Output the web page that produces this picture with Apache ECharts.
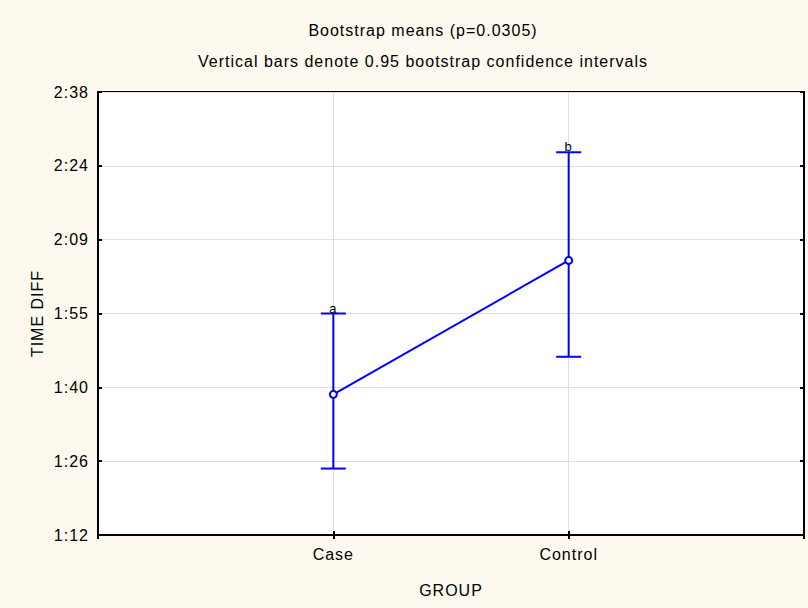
<!DOCTYPE html>
<html>
<head>
<meta charset="utf-8">
<script src="https://cdn.jsdelivr.net/npm/echarts@6/dist/echarts.min.js"></script>
<style>
html,body{margin:0;padding:0;background:#fdf9ee;}
#chart{width:808px;height:608px;}
#chart text{letter-spacing:1px;}
</style>
</head>
<body>
<div id="chart"></div>
<script>
// Data (seconds)
const groups = ['Case', 'Control'];
const meanSec = [99.3, 125.3];
const lowerSec = [84.9, 106.6];
const upperSec = [115.0, 146.3];
const groupLetters = ['a', 'b'];
// Y axis tick labels (m:ss), spanning 72 s .. 158 s in 6 equal steps
const yTickLabels = ['1:12', '1:26', '1:40', '1:55', '2:09', '2:24', '2:38'];
const Y_MIN_SEC = 72;
const Y_MAX_SEC = 158;

const nSteps = yTickLabels.length - 1;
const step = (Y_MAX_SEC - Y_MIN_SEC) / nSteps;
const toUnit = s => (s - Y_MIN_SEC) / step;

const cats = [''].concat(groups).concat(['']);
const lineData = [null].concat(meanSec.map(toUnit)).concat([null]);
const errData = groups.map((g, i) => [i + 1, toUnit(lowerSec[i]), toUnit(upperSec[i]), groupLetters[i]]);

const FONT = 'Liberation Sans, Arial, sans-serif';
const FS = 16;
const chart = echarts.init(document.getElementById('chart'), null, {renderer: 'svg'});
chart.setOption({
  backgroundColor: '#fdf9ee',
  animation: false,
  title: [
    {text: 'Bootstrap means (p=0.0305)', left: 418, top: 17, textAlign: 'center',
     textStyle: {fontFamily: FONT, fontSize: FS, fontWeight: 'normal', color: '#000'}},
    {text: 'Vertical bars denote 0.95 bootstrap confidence intervals', left: 418, top: 48, textAlign: 'center',
     textStyle: {fontFamily: FONT, fontSize: FS, fontWeight: 'normal', color: '#000'}}
  ],
  grid: {left: 98, right: 4, top: 92, bottom: 73, show: true, backgroundColor: '#fff', borderColor: '#000', borderWidth: 2},
  xAxis: [{
    type: 'category', data: cats, boundaryGap: false, position: 'bottom',
    name: 'GROUP', nameLocation: 'middle', nameGap: 47,
    nameTextStyle: {fontFamily: FONT, fontSize: FS, color: '#000'},
    axisLine: {lineStyle: {color: '#000', width: 2}},
    axisTick: {inside: true, length: 4, lineStyle: {color: '#000', width: 2}},
    axisLabel: {fontFamily: FONT, fontSize: FS, color: '#000', margin: 11},
    splitLine: {show: true, lineStyle: {color: '#e0e0e0', width: 1}}
  }, {
    type: 'category', data: cats, boundaryGap: false, position: 'top',
    axisLine: {lineStyle: {color: '#000', width: 2}},
    axisTick: {inside: true, length: 4, lineStyle: {color: '#000', width: 2}},
    axisLabel: {show: false}, splitLine: {show: false}
  }],
  yAxis: [{
    type: 'value', min: 0, max: nSteps, interval: 1, position: 'left',
    name: 'TIME DIFF', nameLocation: 'middle', nameGap: 53, nameRotate: 90,
    nameTextStyle: {fontFamily: FONT, fontSize: FS, color: '#000'},
    axisLine: {show: true, lineStyle: {color: '#000', width: 2}},
    axisTick: {show: true, inside: true, length: 4, lineStyle: {color: '#000', width: 2}},
    axisLabel: {fontFamily: FONT, fontSize: FS, color: '#000', margin: 9,
      formatter: v => yTickLabels[Math.round(v)]},
    splitLine: {show: true, lineStyle: {color: '#e0e0e0', width: 1}}
  }, {
    type: 'value', min: 0, max: nSteps, interval: 1, position: 'right',
    axisLine: {show: true, lineStyle: {color: '#000', width: 2}},
    axisTick: {show: true, inside: true, length: 4, lineStyle: {color: '#000', width: 2}},
    axisLabel: {show: false}, splitLine: {show: false}
  }],
  series: [{
    type: 'custom',
    xAxisIndex: 0, yAxisIndex: 0,
    data: errData,
    z: 3,
    renderItem: function (params, api) {
      const x = api.value(0);
      const lo = api.coord([x, api.value(1)]);
      const hi = api.coord([x, api.value(2)]);
      const hw = 12.5;
      const st = {stroke: '#0000ff', lineWidth: 2};
      return {type: 'group', children: [
        {type: 'line', shape: {x1: lo[0], y1: lo[1], x2: hi[0], y2: hi[1]}, style: st},
        {type: 'line', shape: {x1: lo[0] - hw, y1: lo[1], x2: lo[0] + hw, y2: lo[1]}, style: st},
        {type: 'line', shape: {x1: hi[0] - hw, y1: hi[1], x2: hi[0] + hw, y2: hi[1]}, style: st},
        {type: 'text', x: hi[0], y: hi[1] + 1, style: {text: api.value(3), fill: '#000',
          font: '13px ' + FONT, textAlign: 'center', textVerticalAlign: 'bottom'}}
      ]};
    }
  }, {
    type: 'line',
    xAxisIndex: 0, yAxisIndex: 0,
    data: lineData,
    z: 4,
    symbol: 'circle', symbolSize: 7,
    lineStyle: {color: '#0000ff', width: 2},
    itemStyle: {color: '#ffffff', borderColor: '#0000ff', borderWidth: 2}
  }]
});
</script>
</body>
</html>
